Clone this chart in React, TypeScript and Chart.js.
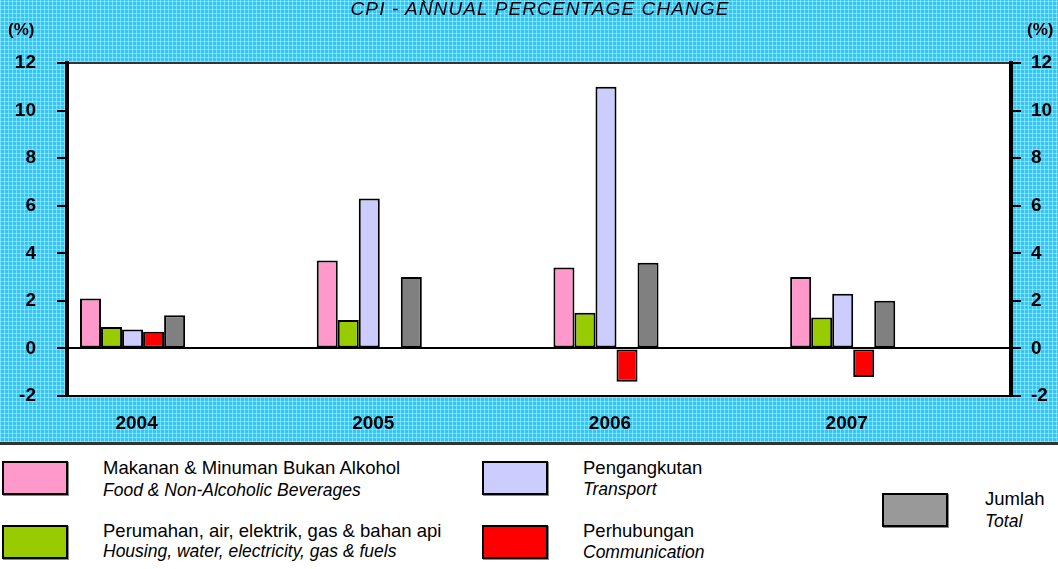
import React, { useEffect, useRef } from 'react';
import { Chart, registerables } from 'chart.js';

Chart.register(...registerables);

// ---- data ----
const categories = ['2004', '2005', '2006', '2007'];
const foodValues = [2.1, 3.7, 3.4, 3.0];
const housingValues = [0.9, 1.2, 1.5, 1.3];
const transportValues = [0.8, 6.3, 11.0, 2.3];
const communicationValues = [0.7, 0, -1.4, -1.2];
const totalValues = [1.4, 3.0, 3.6, 2.0];
const yTickValues = [-2, 0, 2, 4, 6, 8, 10, 12];

const seriesMalay = [
  'Makanan & Minuman Bukan Alkohol',
  'Perumahan, air, elektrik, gas & bahan api',
  'Pengangkutan',
  'Perhubungan',
  'Jumlah',
];
const seriesEnglish = [
  'Food & Non-Alcoholic Beverages',
  'Housing, water, electricity, gas & fuels',
  'Transport',
  'Communication',
  'Total',
];
const seriesColors = ['#ff99cc', '#99cc00', '#ccccff', '#ff0000', '#808080'];

const FONT = '"Liberation Sans", Arial, Helvetica, sans-serif';

const plotBackground = {
  id: 'plotBackground',
  beforeDraw(chart: any) {
    const { ctx, chartArea: a } = chart;
    ctx.save();
    ctx.fillStyle = '#ffffff';
    ctx.fillRect(a.left, a.top, a.right - a.left, a.bottom - a.top);
    ctx.restore();
  },
};

function TextAt(props: {
  left: number;
  baseline: number;
  size: number;
  italic?: boolean;
  bold?: boolean;
  letterSpacing?: number;
  center?: boolean;
  children: React.ReactNode;
}) {
  const { left, baseline, size, italic, bold, letterSpacing, center, children } = props;
  const top = baseline - 0.8465 * size;
  return (
    <div
      style={{
        position: 'absolute',
        left,
        top,
        fontSize: size,
        lineHeight: `${size}px`,
        fontStyle: italic ? 'italic' : 'normal',
        fontWeight: bold ? 'bold' : 'normal',
        whiteSpace: 'nowrap',
        color: '#000',
        letterSpacing: letterSpacing ?? 0,
        transform: center ? 'translateX(-50%)' : undefined,
      }}
    >
      {children}
    </div>
  );
}

function LegendBox(props: { left: number; top: number; w: number; h: number; color: string }) {
  return (
    <div
      style={{
        position: 'absolute',
        left: props.left,
        top: props.top,
        width: props.w,
        height: props.h,
        boxSizing: 'border-box',
        border: '2.5px solid #000',
        background: props.color,
        boxShadow: '1px 1px 0 #888',
      }}
    />
  );
}

export default function App() {
  const canvasRef = useRef<HTMLCanvasElement | null>(null);

  useEffect(() => {
    if (!canvasRef.current) return;
    const seriesValues = [foodValues, housingValues, transportValues, communicationValues, totalValues];
    const datasets = seriesValues.map((vals, k) => ({
      label: seriesMalay[k],
      data: vals.map((v, i) => ({ x: i, y: v })),
      backgroundColor: seriesColors[k],
      borderColor: '#000',
      borderWidth: 2,
      borderSkipped: false as const,
      categoryPercentage: 0.444,
      barPercentage: 1,
    }));

    const tickFont = { family: FONT, size: 19, weight: 'bold' as const };
    const borderLineValues = [12, 0, -2];

    const chart = new Chart(canvasRef.current, {
      type: 'bar',
      data: { datasets: datasets as any },
      plugins: [plotBackground],
      options: {
        responsive: false,
        animation: false,
        devicePixelRatio: 1,
        layout: { padding: { top: 63, left: 0, right: 0, bottom: 0 } },
        plugins: {
          legend: { display: false },
          tooltip: { enabled: false },
          title: { display: false },
        },
        scales: {
          x: {
            type: 'linear',
            offset: false,
            bounds: 'data',
            min: -0.277,
            max: 3.711,
            grid: { display: false, drawTicks: false, offset: false },
            border: { display: false },
            afterDataLimits: (scale: any) => {
              scale.min = -0.277;
              scale.max = 3.711;
            },
            afterBuildTicks: (scale: any) => {
              scale.ticks = categories.map((_, i) => ({ value: i }));
            },
            afterFit: (scale: any) => {
              scale.height = 46;
            },
            ticks: {
              font: tickFont,
              color: '#000',
              padding: 16,
              labelOffset: 4,
              maxRotation: 0,
              autoSkip: false,
              callback: (v: any) => categories[v as number] ?? '',
            },
          },
          y: {
            position: 'left',
            min: -2,
            max: 12,
            afterBuildTicks: (scale: any) => {
              scale.ticks = yTickValues.map((v) => ({ value: v }));
            },
            afterFit: (scale: any) => {
              scale.width = 67;
            },
            ticks: { font: tickFont, color: '#000', padding: 21 },
            grid: {
              drawOnChartArea: true,
              drawTicks: true,
              tickLength: 10,
              tickWidth: 2,
              tickColor: '#000',
              lineWidth: 2,
              color: (ctx: any) =>
                ctx.tick && borderLineValues.includes(ctx.tick.value)
                  ? ctx.tick.value === 12
                    ? '#333'
                    : '#000'
                  : 'rgba(0,0,0,0)',
            },
            border: { display: true, color: '#000', width: 4 },
          },
          y2: {
            position: 'right',
            min: -2,
            max: 12,
            afterBuildTicks: (scale: any) => {
              scale.ticks = yTickValues.map((v) => ({ value: v }));
            },
            afterFit: (scale: any) => {
              scale.width = 47;
            },
            ticks: { font: tickFont, color: '#000', padding: 10 },
            grid: {
              drawOnChartArea: false,
              drawTicks: true,
              tickLength: 10,
              tickWidth: 2,
              tickColor: '#000',
              lineWidth: 2,
              color: '#000',
            },
            border: { display: true, color: '#000', width: 4 },
          },
        },
      } as any,
    });
    return () => chart.destroy();
  }, []);

  return (
    <div
      style={{
        position: 'fixed',
        left: 0,
        top: 0,
        width: 1058,
        height: 569,
        overflow: 'hidden',
        background: '#fff',
        fontFamily: FONT,
      }}
    >
      <div
        style={{
          position: 'absolute',
          left: 0,
          top: 0,
          width: 1058,
          height: 442,
          backgroundColor: '#33c6f4',
          backgroundImage:
            'repeating-linear-gradient(0deg, rgba(180,240,255,0.55) 0px, rgba(180,240,255,0.55) 1px, rgba(0,0,0,0) 1px, rgba(0,0,0,0) 4px), repeating-linear-gradient(90deg, rgba(180,240,255,0.55) 0px, rgba(180,240,255,0.55) 1px, rgba(0,0,0,0) 1px, rgba(0,0,0,0) 4px)',
        }}
      >
        <canvas ref={canvasRef} width={1058} height={442} style={{ position: 'absolute', left: 0, top: 0 }} />
      </div>
      <div style={{ position: 'absolute', left: 0, top: 442, width: 1058, height: 3, background: '#333' }} />

      {/* title (cut off at top) */}
      <TextAt left={420} baseline={-1} size={18}>(i)</TextAt>
      <TextAt left={540} baseline={15} size={19} italic center letterSpacing={1.1}>
        CPI - ANNUAL PERCENTAGE CHANGE
      </TextAt>
      <TextAt left={8} baseline={35} size={17} bold>(%)</TextAt>
      <TextAt left={1027} baseline={35} size={17} bold>(%)</TextAt>

      {/* legend */}
      <LegendBox left={2} top={461} w={66} h={34} color={seriesColors[0]} />
      <TextAt left={103} baseline={475} size={18.5}>{seriesMalay[0]}</TextAt>
      <TextAt left={103} baseline={497} size={17.5} italic>{seriesEnglish[0]}</TextAt>

      <LegendBox left={2} top={525} w={66} h={34} color={seriesColors[1]} />
      <TextAt left={103} baseline={538} size={18.5}>{seriesMalay[1]}</TextAt>
      <TextAt left={103} baseline={558} size={17.5} italic>{seriesEnglish[1]}</TextAt>

      <LegendBox left={482} top={461} w={66} h={34} color={seriesColors[2]} />
      <TextAt left={583} baseline={475} size={18.5}>{seriesMalay[2]}</TextAt>
      <TextAt left={583} baseline={496} size={17.5} italic>{seriesEnglish[2]}</TextAt>

      <LegendBox left={482} top={525} w={66} h={34} color={seriesColors[3]} />
      <TextAt left={583} baseline={538} size={18.5}>{seriesMalay[3]}</TextAt>
      <TextAt left={583} baseline={559} size={17.5} italic>{seriesEnglish[3]}</TextAt>

      <LegendBox left={882} top={493} w={66} h={34} color="#999999" />
      <TextAt left={985} baseline={506} size={18.5}>{seriesMalay[4]}</TextAt>
      <TextAt left={985} baseline={528} size={17.5} italic>{seriesEnglish[4]}</TextAt>
    </div>
  );
}
